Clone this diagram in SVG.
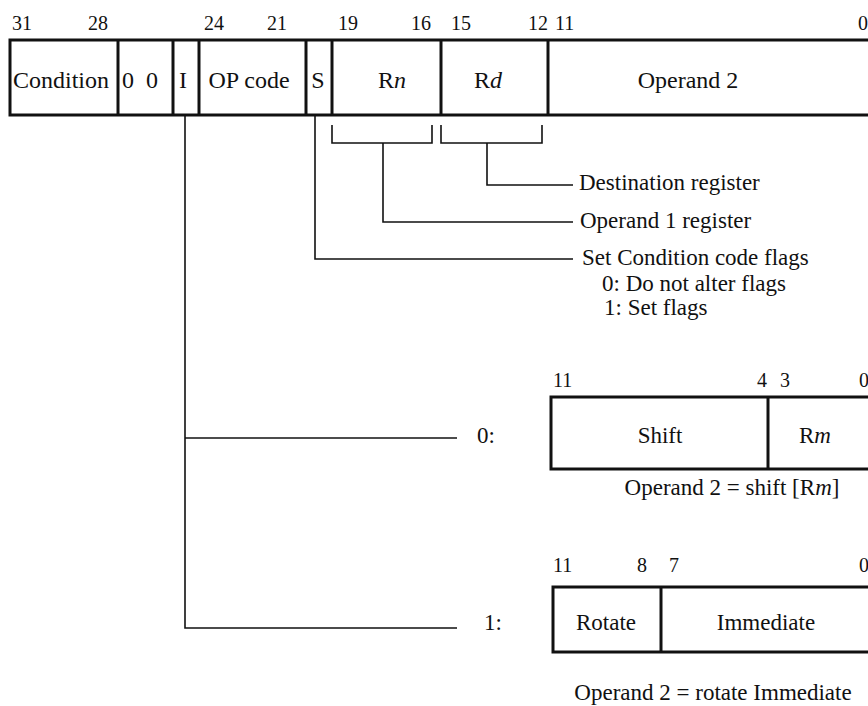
<svg xmlns="http://www.w3.org/2000/svg" width="868" height="706" viewBox="0 0 868 706">
<style>
text{font-family:"Liberation Serif","Times New Roman",serif;fill:#111}
.lbl{font-size:23px}
.top{font-size:24px}
.bit{font-size:20px}
.mid{text-anchor:middle}
.box{fill:#fff;stroke:#111;stroke-width:3}
.div{stroke:#111;stroke-width:3}
.con{fill:none;stroke:#111;stroke-width:1.6}
</style>
<rect width="868" height="706" fill="#fff"/>
<g id="bits-top" class="bit">
<text x="12" y="30">31</text>
<text x="88" y="30">28</text>
<text x="204" y="30">24</text>
<text x="267" y="30">21</text>
<text x="338" y="30">19</text>
<text x="411" y="30">16</text>
<text x="451" y="30">15</text>
<text x="528" y="30">12</text>
<text x="555" y="30">11</text>
<text x="858" y="30">0</text>
</g>
<g id="instruction">
<rect class="box" x="10" y="40" width="870" height="75"/>
<line class="div" x1="118" y1="40" x2="118" y2="115"/>
<line class="div" x1="173" y1="40" x2="173" y2="115"/>
<line class="div" x1="199" y1="40" x2="199" y2="115"/>
<line class="div" x1="306" y1="40" x2="306" y2="115"/>
<line class="div" x1="332" y1="40" x2="332" y2="115"/>
<line class="div" x1="441" y1="40" x2="441" y2="115"/>
<line class="div" x1="548" y1="40" x2="548" y2="115"/>
<g class="top">
<text x="13" y="88">Condition</text>
<text x="122" y="88">0</text>
<text x="146" y="88">0</text>
<text x="179" y="88">I</text>
<text x="249" y="88" class="mid">OP code</text>
<text x="318" y="88" class="mid">S</text>
<text x="392" y="88" class="mid">R<tspan font-style="italic">n</tspan></text>
<text x="488" y="88" class="mid">R<tspan font-style="italic">d</tspan></text>
<text x="688" y="88" class="mid">Operand 2</text>
</g>
</g>
<g id="connectors">
<polyline class="con" points="332,125 332,143 432,143 432,125"/>
<polyline class="con" points="441,125 441,143 542,143 542,125"/>
<polyline class="con" points="487,143 487,185 573,185"/>
<polyline class="con" points="383,143 383,222 573,222"/>
<polyline class="con" points="315,115 315,259 573,259"/>
<polyline class="con" points="185,115 185,628 457,628"/>
<line class="con" x1="185" y1="438" x2="457" y2="438"/>
</g>
<g id="field-labels" class="lbl">
<text x="579" y="190">Destination register</text>
<text x="580" y="228">Operand 1 register</text>
<text x="582" y="265">Set Condition code flags</text>
<text x="602" y="291">0: Do not alter flags</text>
<text x="604" y="315">1: Set flags</text>
</g>
<g id="shift-format">
<text class="lbl" x="477" y="443">0:</text>
<g class="bit">
<text x="553" y="387">11</text>
<text x="757" y="387">4</text>
<text x="780" y="387">3</text>
<text x="859" y="387">0</text>
</g>
<rect class="box" x="551" y="397" width="330" height="72"/>
<line class="div" x1="768" y1="397" x2="768" y2="469"/>
<text class="lbl mid" x="660" y="443">Shift</text>
<text class="lbl mid" x="815" y="443">R<tspan font-style="italic">m</tspan></text>
<text class="lbl mid" x="732" y="495">Operand 2 = shift [R<tspan font-style="italic">m</tspan>]</text>
</g>
<g id="rotate-format">
<text class="lbl" x="484" y="630">1:</text>
<g class="bit">
<text x="553" y="572">11</text>
<text x="637" y="572">8</text>
<text x="669" y="572">7</text>
<text x="859" y="572">0</text>
</g>
<rect class="box" x="553" y="587" width="330" height="65"/>
<line class="div" x1="661" y1="587" x2="661" y2="652"/>
<text class="lbl mid" x="606" y="630">Rotate</text>
<text class="lbl mid" x="766" y="630">Immediate</text>
<text class="lbl mid" x="713" y="700">Operand 2 = rotate Immediate</text>
</g>
</svg>
